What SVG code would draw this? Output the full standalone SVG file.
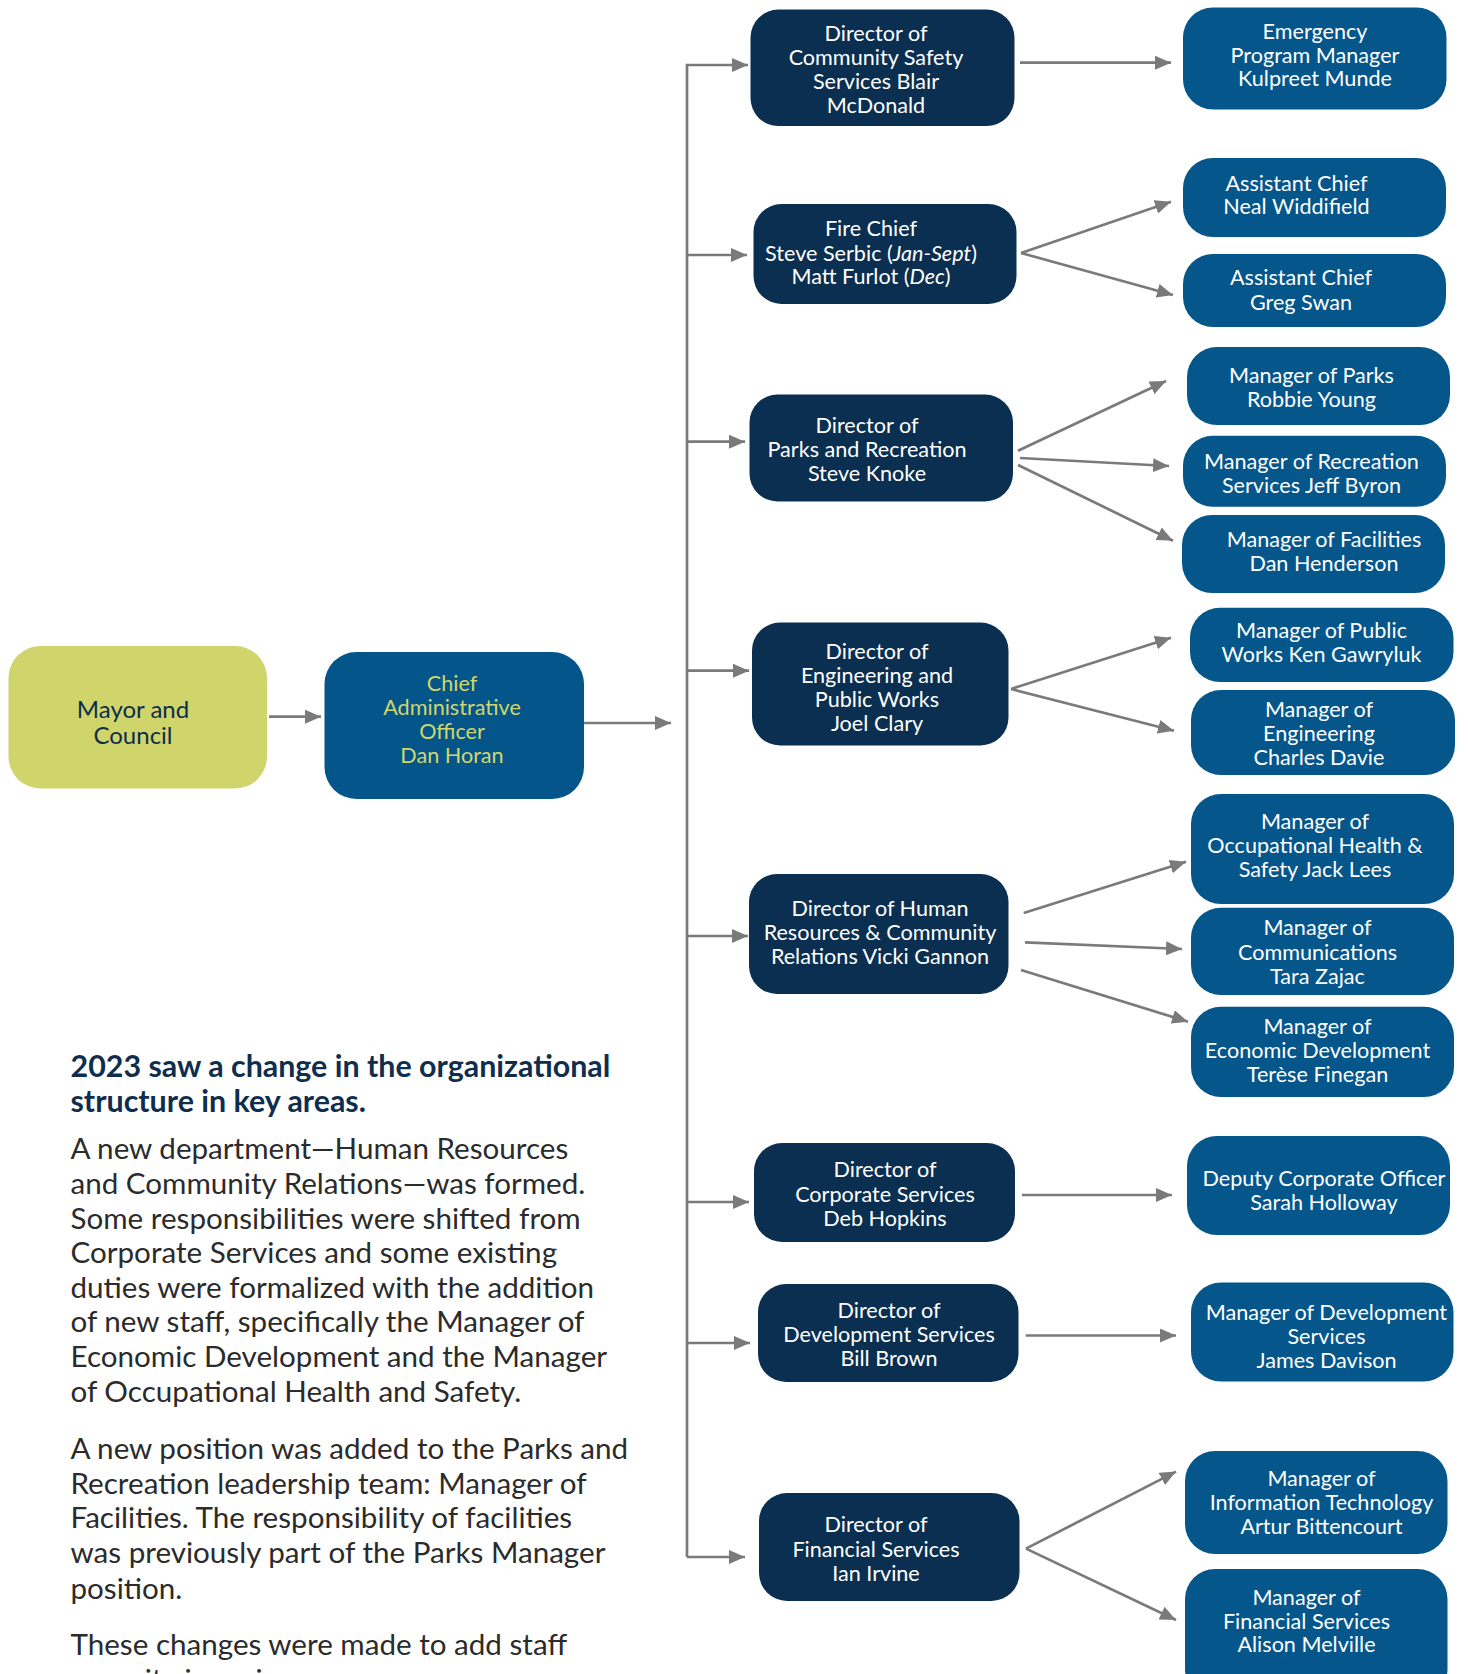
<svg xmlns="http://www.w3.org/2000/svg" width="1469" height="1674" viewBox="0 0 1469 1674">
<style>
.dir{fill:#0b2f50}
.mgr{fill:#04568b}
.bt{font-family:Lato,"Liberation Sans",sans-serif;font-size:21.6px;fill:#ffffff;text-anchor:middle}
.cao{fill:#d1d66b}
.c{fill:none;stroke:#7a7a7a;stroke-width:2.7}
.h{font-family:Lato,"Liberation Sans",sans-serif;font-size:30.4px;font-weight:bold;fill:#0f2e4e}
.p{font-family:Lato,"Liberation Sans",sans-serif;font-size:29.6px;fill:#2b2b2b}
</style>
<defs>
<marker id="ah" markerUnits="userSpaceOnUse" markerWidth="17" markerHeight="14" refX="16" refY="7" orient="auto">
<path d="M0,0 L16,7 L0,14 z" fill="#7a7a7a"/>
</marker>
</defs>
<rect width="1469" height="1674" fill="#ffffff"/>

<g id="connectors">
<path class="c" d="M269,716.7 H321" marker-end="url(#ah)"/>
<path class="c" d="M584,723 H671" marker-end="url(#ah)"/>
<path class="c" d="M687,1557 V65 H748" marker-end="url(#ah)"/>
<path class="c" d="M687,255 H747" marker-end="url(#ah)"/>
<path class="c" d="M687,441.7 H745" marker-end="url(#ah)"/>
<path class="c" d="M687,670.7 H749" marker-end="url(#ah)"/>
<path class="c" d="M687,936 H748" marker-end="url(#ah)"/>
<path class="c" d="M687,1202 H749" marker-end="url(#ah)"/>
<path class="c" d="M687,1343 H750" marker-end="url(#ah)"/>
<path class="c" d="M687,1557 H745" marker-end="url(#ah)"/>

<path class="c" d="M1020,62.7 H1171" marker-end="url(#ah)"/>
<path class="c" d="M1021,253 L1171,201.7" marker-end="url(#ah)"/>
<path class="c" d="M1021,253 L1173,295" marker-end="url(#ah)"/>
<path class="c" d="M1018,450.7 L1166,381" marker-end="url(#ah)"/>
<path class="c" d="M1020,458 L1169,466" marker-end="url(#ah)"/>
<path class="c" d="M1018,465 L1173,540.7" marker-end="url(#ah)"/>
<path class="c" d="M1011,689 L1171,637.7" marker-end="url(#ah)"/>
<path class="c" d="M1011,689 L1174,730.7" marker-end="url(#ah)"/>
<path class="c" d="M1023.7,913 L1186,861.7" marker-end="url(#ah)"/>
<path class="c" d="M1025,942.3 L1182,949" marker-end="url(#ah)"/>
<path class="c" d="M1021,970 L1188,1021.7" marker-end="url(#ah)"/>
<path class="c" d="M1022,1195 H1172" marker-end="url(#ah)"/>
<path class="c" d="M1025.7,1335.5 H1176" marker-end="url(#ah)"/>
<path class="c" d="M1026,1548.6 L1176,1471.6" marker-end="url(#ah)"/>
<path class="c" d="M1026,1548.6 L1176,1620" marker-end="url(#ah)"/>
</g>

<g id="mayor">
<rect x="8.5" y="646" width="258.5" height="142.5" rx="32" fill="#cfd56a"/>
<text font-family="Lato,'Liberation Sans',sans-serif" font-size="24" fill="#0c2d4e" text-anchor="middle"><tspan x="133" y="717.5">Mayor and</tspan><tspan x="133" y="743.5">Council</tspan></text>
</g>

<g id="cao">
<rect x="324.5" y="652" width="259.5" height="147" rx="32" fill="#03558a"/>
<text class="bt cao"><tspan x="452" y="690.5">Chief</tspan><tspan x="452" y="714.5">Administrative</tspan><tspan x="452" y="739">Officer</tspan><tspan x="452" y="762.5">Dan Horan</tspan></text>
</g>

<g id="dir-community-safety">
<rect class="dir" x="750.5" y="9.6" width="264" height="116.5" rx="28"/>
<text class="bt"><tspan x="876" y="40.5">Director of</tspan><tspan x="876" y="64.5">Community Safety</tspan><tspan x="876" y="89">Services Blair</tspan><tspan x="876" y="112.5">McDonald</tspan></text>
</g>
<g id="dir-fire">
<rect class="dir" x="753.5" y="204" width="263" height="100" rx="28"/>
<text class="bt"><tspan x="871" y="235.5">Fire Chief</tspan><tspan x="871" y="260.5">Steve Serbic  (<tspan font-style="italic">Jan-Sept</tspan>)</tspan><tspan x="871" y="283.5">Matt Furlot (<tspan font-style="italic">Dec</tspan>)</tspan></text>
</g>
<g id="dir-parks">
<rect class="dir" x="749.5" y="394.5" width="263.5" height="107" rx="28"/>
<text class="bt"><tspan x="867" y="432.5">Director of</tspan><tspan x="867" y="456.5">Parks and Recreation</tspan><tspan x="867" y="480.5">Steve Knoke</tspan></text>
</g>
<g id="dir-engineering">
<rect class="dir" x="752" y="622.5" width="256.5" height="123" rx="28"/>
<text class="bt"><tspan x="877" y="658.5">Director of</tspan><tspan x="877" y="682.5">Engineering and</tspan><tspan x="877" y="706.5">Public Works</tspan><tspan x="877" y="730.5">Joel Clary</tspan></text>
</g>
<g id="dir-hr">
<rect class="dir" x="749" y="874" width="259.5" height="120" rx="28"/>
<text class="bt"><tspan x="880" y="915.5">Director of Human</tspan><tspan x="880" y="939.5">Resources &amp; Community</tspan><tspan x="880" y="964">Relations Vicki Gannon</tspan></text>
</g>
<g id="dir-corporate">
<rect class="dir" x="754" y="1143" width="261" height="99" rx="28"/>
<text class="bt"><tspan x="885" y="1177">Director of</tspan><tspan x="885" y="1201.5">Corporate Services</tspan><tspan x="885" y="1225.5">Deb Hopkins</tspan></text>
</g>
<g id="dir-development">
<rect class="dir" x="758" y="1284" width="260.5" height="98" rx="28"/>
<text class="bt"><tspan x="889" y="1317.5">Director of</tspan><tspan x="889" y="1342">Development Services</tspan><tspan x="889" y="1365.5">Bill Brown</tspan></text>
</g>
<g id="dir-financial">
<rect class="dir" x="759" y="1493" width="260.5" height="108" rx="28"/>
<text class="bt"><tspan x="876" y="1532">Director of</tspan><tspan x="876" y="1556.5">Financial Services</tspan><tspan x="876" y="1580.5">Ian Irvine</tspan></text>
</g>

<g id="mgr-emergency">
<rect class="mgr" x="1183" y="7.5" width="263.5" height="102" rx="30"/>
<text class="bt"><tspan x="1315" y="39">Emergency</tspan><tspan x="1315" y="62.5">Program Manager</tspan><tspan x="1315" y="85.5">Kulpreet Munde</tspan></text>
</g>
<g id="mgr-asst-chief-neal">
<rect class="mgr" x="1183" y="158" width="263" height="79" rx="30"/>
<text class="bt"><tspan x="1296.5" y="190.5">Assistant Chief</tspan><tspan x="1296.5" y="213.5">Neal Widdifield</tspan></text>
</g>
<g id="mgr-asst-chief-greg">
<rect class="mgr" x="1183" y="254" width="263" height="73" rx="30"/>
<text class="bt"><tspan x="1301" y="284.5">Assistant Chief</tspan><tspan x="1301" y="309.5">Greg Swan</tspan></text>
</g>
<g id="mgr-parks">
<rect class="mgr" x="1187" y="347" width="263" height="78" rx="30"/>
<text class="bt"><tspan x="1311.5" y="382.5">Manager of Parks</tspan><tspan x="1311.5" y="406.5">Robbie Young</tspan></text>
</g>
<g id="mgr-recreation">
<rect class="mgr" x="1183" y="435.7" width="263" height="71" rx="30"/>
<text class="bt"><tspan x="1311.5" y="469">Manager of Recreation</tspan><tspan x="1311.5" y="493">Services Jeff Byron</tspan></text>
</g>
<g id="mgr-facilities">
<rect class="mgr" x="1182" y="515" width="263" height="78" rx="30"/>
<text class="bt"><tspan x="1324" y="546.5">Manager of Facilities</tspan><tspan x="1324" y="570.5">Dan Henderson</tspan></text>
</g>
<g id="mgr-public-works">
<rect class="mgr" x="1190" y="607.7" width="263.5" height="74.3" rx="30"/>
<text class="bt"><tspan x="1321.5" y="637.5">Manager of Public</tspan><tspan x="1321.5" y="661.5">Works Ken Gawryluk</tspan></text>
</g>
<g id="mgr-engineering">
<rect class="mgr" x="1191" y="690" width="264" height="85" rx="30"/>
<text class="bt"><tspan x="1319" y="716.5">Manager of</tspan><tspan x="1319" y="740.5">Engineering</tspan><tspan x="1319" y="764.5">Charles Davie</tspan></text>
</g>
<g id="mgr-ohs">
<rect class="mgr" x="1191" y="794" width="263" height="110" rx="30"/>
<text class="bt"><tspan x="1315" y="829">Manager of</tspan><tspan x="1315" y="852.5">Occupational Health &amp;</tspan><tspan x="1315" y="876.5">Safety Jack Lees</tspan></text>
</g>
<g id="mgr-communications">
<rect class="mgr" x="1191" y="907.7" width="263" height="87.3" rx="30"/>
<text class="bt"><tspan x="1317.5" y="935">Manager of</tspan><tspan x="1317.5" y="959.5">Communications</tspan><tspan x="1317.5" y="983.5">Tara Zajac</tspan></text>
</g>
<g id="mgr-economic">
<rect class="mgr" x="1191" y="1006.7" width="263" height="90.3" rx="30"/>
<text class="bt"><tspan x="1317.5" y="1034">Manager of</tspan><tspan x="1317.5" y="1057.5">Economic Development</tspan><tspan x="1317.5" y="1081.5">Terèse Finegan</tspan></text>
</g>
<g id="mgr-deputy-corporate">
<rect class="mgr" x="1187" y="1136" width="263" height="99" rx="30"/>
<text class="bt"><tspan x="1324" y="1185.5">Deputy Corporate Officer</tspan><tspan x="1324" y="1209.5">Sarah Holloway</tspan></text>
</g>
<g id="mgr-development">
<rect class="mgr" x="1191" y="1282.5" width="262.5" height="99" rx="30"/>
<text class="bt"><tspan x="1326.5" y="1320">Manager of Development</tspan><tspan x="1326.5" y="1343.5">Services</tspan><tspan x="1326.5" y="1367.5">James Davison</tspan></text>
</g>
<g id="mgr-it">
<rect class="mgr" x="1185" y="1451" width="262.5" height="103" rx="30"/>
<text class="bt"><tspan x="1321.5" y="1486">Manager of</tspan><tspan x="1321.5" y="1510">Information Technology</tspan><tspan x="1321.5" y="1534">Artur Bittencourt</tspan></text>
</g>
<g id="mgr-financial">
<rect class="mgr" x="1185" y="1569" width="262.5" height="130" rx="30"/>
<text class="bt"><tspan x="1306.5" y="1604.5">Manager of</tspan><tspan x="1306.5" y="1628.5">Financial Services</tspan><tspan x="1306.5" y="1651.5">Alison Melville</tspan></text>
</g>

<g id="notes">
<text class="h"><tspan x="70.5" y="1076.7">2023 saw a change in the organizational</tspan><tspan x="70.5" y="1111.7">structure in key areas.</tspan></text>
<text class="p">
<tspan x="70.5" y="1159.4">A new department—Human Resources</tspan>
<tspan x="70.5" y="1194">and Community Relations—was formed.</tspan>
<tspan x="70.5" y="1228.6">Some responsibilities were shifted from</tspan>
<tspan x="70.5" y="1263.2">Corporate Services and some existing</tspan>
<tspan x="70.5" y="1297.8">duties were formalized with the addition</tspan>
<tspan x="70.5" y="1332.4">of new staff, specifically the Manager of</tspan>
<tspan x="70.5" y="1367">Economic Development and the Manager</tspan>
<tspan x="70.5" y="1401.7">of Occupational Health and Safety.</tspan>
<tspan x="70.5" y="1459">A new position was added to the Parks and</tspan>
<tspan x="70.5" y="1493.6">Recreation leadership team: Manager of</tspan>
<tspan x="70.5" y="1528.2">Facilities. The responsibility of facilities</tspan>
<tspan x="70.5" y="1563">was previously part of the Parks Manager</tspan>
<tspan x="70.5" y="1598.8">position.</tspan>
<tspan x="70.5" y="1655">These changes were made to add staff</tspan>
<tspan x="70.5" y="1689.6">capacity in various areas.</tspan>
</text>
</g>
</svg>
